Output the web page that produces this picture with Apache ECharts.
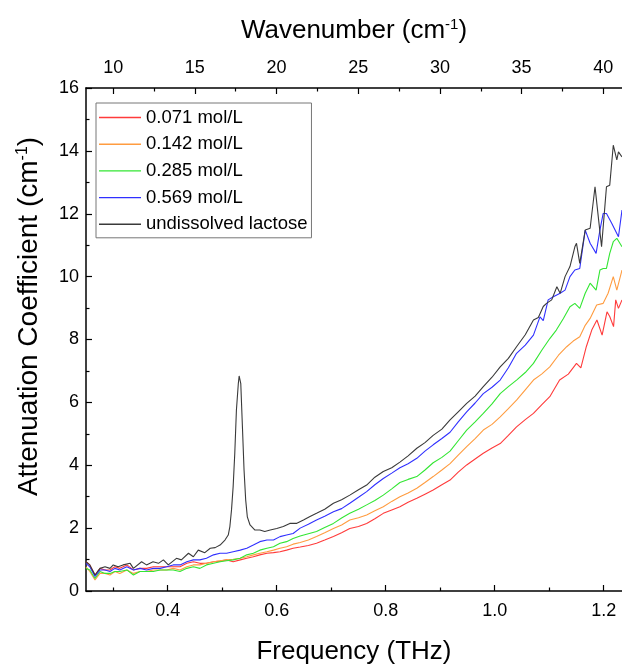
<!DOCTYPE html>
<html>
<head>
<meta charset="utf-8">
<script src="https://cdn.jsdelivr.net/npm/echarts@6/dist/echarts.min.js"></script>
<style>
html,body{margin:0;padding:0;background:#fff;}
#chart{width:622px;height:665px;}
</style>
</head>
<body>
<div id="chart"></div>
<script>
// ---- data (frequency THz, attenuation cm^-1) ----
const seriesNames = ['0.071 mol/L', '0.142 mol/L', '0.285 mol/L', '0.569 mol/L', 'undissolved lactose'];
const seriesColors = ['#ff3b3b', '#ff9c40', '#33e633', '#3030ff', '#3a3a3a'];

const conc071 = [[0.25,0.93],[0.257,0.83],[0.2665,0.51],[0.2757,0.72],[0.2849,0.67],[0.294,0.67],[0.303,0.77],[0.312,0.72],[0.325,0.83],[0.337,0.67],[0.349,0.72],[0.361,0.72],[0.3735,0.77],[0.386,0.77],[0.398,0.77],[0.41,0.77],[0.4225,0.77],[0.435,0.88],[0.447,0.93],[0.459,0.88],[0.471,0.88],[0.484,0.93],[0.496,0.95],[0.508,0.99],[0.52,0.93],[0.533,0.99],[0.545,1.04],[0.557,1.09],[0.569,1.15],[0.582,1.2],[0.594,1.22],[0.606,1.25],[0.618,1.3],[0.63,1.36],[0.643,1.4],[0.658,1.45],[0.673,1.52],[0.688,1.62],[0.704,1.73],[0.719,1.85],[0.734,1.99],[0.75,2.05],[0.765,2.15],[0.78,2.3],[0.7955,2.47],[0.811,2.58],[0.826,2.68],[0.841,2.82],[0.857,2.95],[0.872,3.08],[0.887,3.21],[0.903,3.38],[0.918,3.53],[0.933,3.78],[0.9485,4.01],[0.964,4.2],[0.979,4.38],[0.995,4.55],[1.01,4.69],[1.025,4.95],[1.04,5.22],[1.056,5.45],[1.071,5.65],[1.086,5.92],[1.101,6.18],[1.119,6.71],[1.135,6.9],[1.15,7.24],[1.158,7.1],[1.168,7.77],[1.178,8.3],[1.1875,8.62],[1.197,8.14],[1.206,8.88],[1.211,8.73],[1.218,8.41],[1.222,9.26],[1.227,8.99],[1.2335,9.26]];

const conc142 = [[0.25,0.77],[0.257,0.62],[0.2665,0.35],[0.2757,0.56],[0.2849,0.56],[0.294,0.51],[0.303,0.62],[0.312,0.56],[0.325,0.67],[0.337,0.56],[0.349,0.62],[0.361,0.62],[0.3735,0.67],[0.386,0.67],[0.398,0.67],[0.41,0.72],[0.4225,0.67],[0.435,0.77],[0.447,0.83],[0.459,0.83],[0.471,0.88],[0.484,0.93],[0.496,0.96],[0.508,0.99],[0.52,1.01],[0.533,1.04],[0.545,1.09],[0.557,1.15],[0.569,1.2],[0.582,1.25],[0.594,1.3],[0.606,1.36],[0.618,1.41],[0.63,1.49],[0.643,1.54],[0.658,1.62],[0.673,1.73],[0.688,1.85],[0.704,1.99],[0.719,2.1],[0.734,2.26],[0.75,2.33],[0.765,2.42],[0.78,2.55],[0.7955,2.68],[0.811,2.85],[0.826,3.0],[0.841,3.12],[0.857,3.27],[0.872,3.45],[0.887,3.64],[0.903,3.85],[0.918,4.05],[0.933,4.32],[0.9485,4.59],[0.964,4.85],[0.979,5.12],[0.995,5.3],[1.01,5.54],[1.025,5.8],[1.04,6.07],[1.056,6.4],[1.071,6.71],[1.086,6.9],[1.101,7.13],[1.117,7.5],[1.132,7.77],[1.144,7.95],[1.156,8.09],[1.166,8.45],[1.175,8.67],[1.187,9.1],[1.199,9.15],[1.208,9.47],[1.2175,10.0],[1.224,9.57],[1.2335,10.21]];

const conc285 = [[0.25,0.72],[0.257,0.67],[0.2665,0.4],[0.2757,0.62],[0.2849,0.56],[0.294,0.56],[0.303,0.62],[0.312,0.62],[0.325,0.67],[0.337,0.51],[0.349,0.62],[0.361,0.62],[0.3735,0.62],[0.386,0.67],[0.398,0.67],[0.41,0.67],[0.4225,0.62],[0.435,0.72],[0.447,0.77],[0.459,0.72],[0.471,0.83],[0.484,0.88],[0.496,0.93],[0.508,0.96],[0.52,0.99],[0.533,1.04],[0.545,1.15],[0.557,1.2],[0.569,1.3],[0.582,1.36],[0.594,1.41],[0.606,1.52],[0.618,1.57],[0.63,1.67],[0.643,1.75],[0.658,1.82],[0.673,1.89],[0.688,2.02],[0.704,2.15],[0.719,2.32],[0.734,2.47],[0.75,2.6],[0.765,2.74],[0.78,2.88],[0.7955,3.05],[0.811,3.25],[0.826,3.45],[0.841,3.55],[0.857,3.64],[0.872,3.85],[0.887,4.08],[0.903,4.25],[0.918,4.45],[0.933,4.78],[0.9485,5.12],[0.964,5.38],[0.979,5.65],[0.995,5.95],[1.01,6.28],[1.025,6.5],[1.04,6.71],[1.056,6.95],[1.071,7.24],[1.086,7.65],[1.101,8.03],[1.113,8.3],[1.126,8.67],[1.138,9.04],[1.147,9.15],[1.156,8.99],[1.166,9.47],[1.175,9.79],[1.186,9.57],[1.193,10.21],[1.199,10.26],[1.205,10.26],[1.211,10.74],[1.2175,11.11],[1.224,11.22],[1.2335,10.95]];

const conc569 = [[0.25,0.88],[0.257,0.77],[0.2665,0.46],[0.2757,0.67],[0.2849,0.67],[0.294,0.62],[0.303,0.72],[0.312,0.67],[0.325,0.77],[0.337,0.67],[0.349,0.72],[0.361,0.67],[0.3735,0.72],[0.386,0.72],[0.398,0.77],[0.41,0.83],[0.4225,0.83],[0.435,0.93],[0.447,0.99],[0.459,0.99],[0.471,1.04],[0.484,1.15],[0.496,1.2],[0.508,1.2],[0.52,1.25],[0.533,1.3],[0.545,1.36],[0.557,1.46],[0.569,1.57],[0.582,1.62],[0.594,1.62],[0.606,1.73],[0.618,1.78],[0.63,1.83],[0.643,2.0],[0.658,2.12],[0.673,2.26],[0.688,2.38],[0.704,2.52],[0.719,2.62],[0.734,2.79],[0.75,2.98],[0.765,3.16],[0.78,3.38],[0.7955,3.58],[0.811,3.75],[0.826,3.92],[0.841,4.05],[0.857,4.22],[0.872,4.45],[0.887,4.65],[0.903,4.85],[0.918,5.05],[0.933,5.38],[0.9485,5.7],[0.964,5.98],[0.979,6.28],[0.995,6.48],[1.01,6.71],[1.025,7.1],[1.04,7.56],[1.056,7.82],[1.071,8.14],[1.083,8.72],[1.089,8.6],[1.098,9.26],[1.1075,9.36],[1.12,9.47],[1.129,9.57],[1.138,10.0],[1.147,10.21],[1.156,10.26],[1.166,11.48],[1.175,11.06],[1.186,10.74],[1.193,11.48],[1.199,12.01],[1.205,12.01],[1.2146,11.7],[1.227,11.27],[1.2335,12.12]];

const lactose = [[0.25,0.93],[0.257,0.83],[0.2665,0.51],[0.2757,0.72],[0.2849,0.77],[0.294,0.72],[0.3,0.83],[0.309,0.77],[0.318,0.83],[0.331,0.88],[0.337,0.72],[0.352,0.93],[0.361,0.83],[0.373,0.93],[0.383,0.88],[0.392,0.99],[0.401,0.83],[0.416,1.04],[0.425,0.99],[0.438,1.2],[0.447,1.09],[0.456,1.3],[0.468,1.22],[0.478,1.36],[0.487,1.38],[0.496,1.46],[0.505,1.62],[0.511,1.78],[0.514,2.05],[0.517,2.58],[0.52,3.32],[0.523,4.38],[0.526,5.76],[0.5295,6.6],[0.531,6.84],[0.534,6.6],[0.537,5.23],[0.54,3.85],[0.543,2.9],[0.546,2.36],[0.551,2.1],[0.56,1.94],[0.569,1.94],[0.578,1.89],[0.588,1.94],[0.6,1.99],[0.612,2.05],[0.624,2.15],[0.636,2.15],[0.649,2.26],[0.661,2.37],[0.673,2.47],[0.688,2.6],[0.704,2.79],[0.719,2.9],[0.734,3.05],[0.75,3.22],[0.765,3.37],[0.78,3.62],[0.7955,3.8],[0.811,3.92],[0.826,4.1],[0.841,4.3],[0.857,4.54],[0.872,4.72],[0.887,4.95],[0.903,5.15],[0.918,5.44],[0.933,5.7],[0.9485,5.97],[0.964,6.2],[0.979,6.5],[0.995,6.8],[1.01,7.13],[1.025,7.4],[1.04,7.77],[1.056,8.15],[1.071,8.62],[1.08,8.7],[1.089,9.05],[1.095,9.15],[1.1045,9.26],[1.114,9.68],[1.12,9.47],[1.129,10.0],[1.138,10.32],[1.147,10.95],[1.15,11.06],[1.156,10.42],[1.166,11.48],[1.175,11.54],[1.184,12.86],[1.19,11.9],[1.196,10.95],[1.202,12.22],[1.205,12.86],[1.211,12.91],[1.2175,14.18],[1.224,13.71],[1.227,13.97],[1.2335,13.81]];

const allSeries = [conc071, conc142, conc285, conc569, lactose];

// ---- axis ticks ----
const freqMin = 0.25, freqMax = 1.2335;
const THZ_TO_CM = 33.356;
const freqMajor = [0.4, 0.6, 0.8, 1.0, 1.2];
const freqMinor = [0.3, 0.5, 0.7, 0.9, 1.1];
const waveMajor = [10, 15, 20, 25, 30, 35, 40];
const waveMinor = [12.5, 17.5, 22.5, 27.5, 32.5, 37.5];
const yMin = 0, yMax = 16, yStep = 2;

const FONT = "'Liberation Sans', Arial, Helvetica, sans-serif";
const gridRect = {left: 86, right: 0, top: 88, bottom: 74, containLabel: false, outerBoundsMode: 'none'};
const axisLineStyle = {color: '#000', width: 1.5};

const chart = echarts.init(document.getElementById('chart'), null, {renderer: 'canvas'});
const option = {
  backgroundColor: '#fff',
  animation: false,
  textStyle: {fontFamily: FONT, color: '#000'},
  grid: [Object.assign({}, gridRect), Object.assign({}, gridRect)],
  legend: {
    orient: 'vertical',
    left: 96, top: 103,
    padding: [5, 4, 4, 3],
    icon: 'rect',
    itemWidth: 42, itemHeight: 1.4, itemGap: 7.7,
    borderColor: '#777', borderWidth: 1,
    textStyle: {fontFamily: FONT, fontSize: 18.5, color: '#000'},
    data: seriesNames
  },
  xAxis: [
    { // bottom, frequency (major ticks + labels)
      type: 'value', gridIndex: 0, position: 'bottom',
      min: freqMin, max: freqMax,
      name: 'Frequency (THz)', nameLocation: 'middle', nameGap: 48,
      nameTextStyle: {fontSize: 26, fontFamily: FONT, color: '#000'},
      axisLine: {show: true, lineStyle: axisLineStyle},
      axisTick: {show: true, inside: true, length: 6, lineStyle: {color: '#000', width: 1.2}, customValues: freqMajor},
      axisLabel: {show: true, fontSize: 18, color: '#000', margin: 11, customValues: freqMajor,
                  formatter: v => v.toFixed(1)},
      splitLine: {show: false}
    },
    { // top, wavenumber (major ticks + labels)
      type: 'value', gridIndex: 0, position: 'top',
      min: freqMin * THZ_TO_CM, max: freqMax * THZ_TO_CM,
      name: 'Wavenumber (cm{sup|-1})', nameLocation: 'middle', nameGap: 44,
      nameTextStyle: {fontSize: 26, fontFamily: FONT, color: '#000',
        rich: {sup: {fontSize: 15, fontFamily: FONT, color: '#000', verticalAlign: 'top', padding: [0, 0, 12, 0]}}},
      axisLine: {show: true, lineStyle: axisLineStyle},
      axisTick: {show: true, inside: true, length: 6, lineStyle: {color: '#000', width: 1.2}, customValues: waveMajor},
      axisLabel: {show: true, fontSize: 18, color: '#000', margin: 11, customValues: waveMajor},
      splitLine: {show: false}
    },
    { // bottom minor ticks
      type: 'value', gridIndex: 1, position: 'bottom',
      min: freqMin, max: freqMax,
      axisLine: {show: false},
      axisTick: {show: true, inside: true, length: 3.5, lineStyle: {color: '#000', width: 1.2}, customValues: freqMinor},
      axisLabel: {show: false, customValues: freqMinor},
      splitLine: {show: false}
    },
    { // top minor ticks
      type: 'value', gridIndex: 1, position: 'top',
      min: freqMin * THZ_TO_CM, max: freqMax * THZ_TO_CM,
      axisLine: {show: false},
      axisTick: {show: true, inside: true, length: 3.5, lineStyle: {color: '#000', width: 1.2}, customValues: waveMinor},
      axisLabel: {show: false, customValues: waveMinor},
      splitLine: {show: false}
    }
  ],
  yAxis: [
    {
      type: 'value', gridIndex: 0, position: 'left',
      min: yMin, max: yMax, interval: yStep,
      name: 'Attenuation Coefficient (cm{sup|-1})', nameLocation: 'middle', nameGap: 43,
      nameTextStyle: {fontSize: 28, fontFamily: FONT, color: '#000', padding: [0, 0, 0, 46],
        rich: {sup: {fontSize: 16, fontFamily: FONT, color: '#000', verticalAlign: 'top', padding: [0, 0, 12, 0]}}},
      axisLine: {show: true, lineStyle: axisLineStyle},
      axisTick: {show: true, inside: true, length: 6, lineStyle: {color: '#000', width: 1.2}},
      minorTick: {show: true, splitNumber: 2, length: 3.5, lineStyle: {color: '#000', width: 1.2}},
      axisLabel: {show: true, fontSize: 18, color: '#000', margin: 7},
      splitLine: {show: false}
    },
    {
      type: 'value', gridIndex: 1, min: yMin, max: yMax, show: false
    }
  ],
  series: allSeries.map((d, i) => ({
    name: seriesNames[i],
    type: 'line',
    xAxisIndex: 0, yAxisIndex: 0,
    data: d,
    symbol: 'none',
    showSymbol: false,
    smooth: false,
    lineStyle: {color: seriesColors[i], width: 1.1},
    itemStyle: {color: seriesColors[i]},
    z: 2 + i
  }))
};
chart.setOption(option);
</script>
</body>
</html>
